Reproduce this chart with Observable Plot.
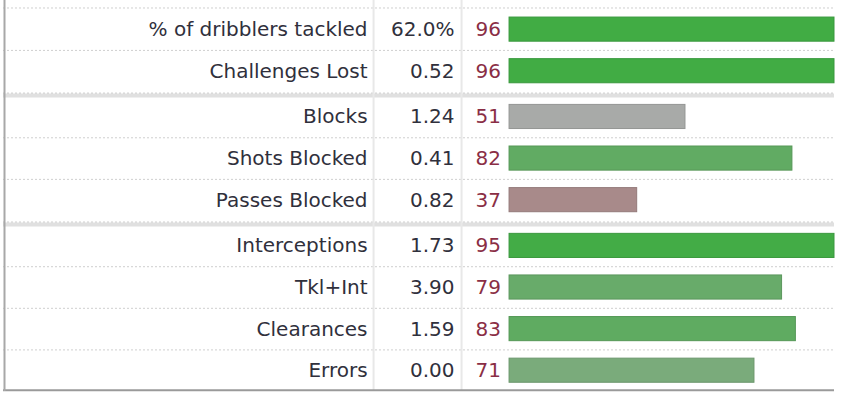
<!DOCTYPE html>
<html>
<head>
<meta charset="utf-8">
<script src="https://cdn.jsdelivr.net/npm/d3@7"></script>
<script src="https://cdn.jsdelivr.net/npm/@observablehq/plot@0.6"></script>
<style>
  html, body { margin: 0; padding: 0; background: #fff; }
  #chart svg { display: block; }
</style>
</head>
<body>
<div id="chart"></div>
<script>
// ---- data ----
const labels = ["% of dribblers tackled", "Challenges Lost", "Blocks", "Shots Blocked", "Passes Blocked", "Interceptions", "Tkl+Int", "Clearances", "Errors"];
const values = ["62.0%", "0.52", "1.24", "0.41", "0.82", "1.73", "3.90", "1.59", "0.00"];
const percentiles = [96, 96, 51, 82, 37, 95, 79, 83, 71];
const groups = [0, 0, 1, 1, 1, 2, 2, 2, 2];

// ---- layout / style ----
const groupGap = 0.1;
const rows = labels.map((label, i) => ({
  label, value: values[i], pct: percentiles[i], group: groups[i],
  pos: i + groups[i] * groupGap
}));
const xMin = -146.7, xMax = 94.2;

const colorScale = d3.scaleLinear()
  .domain([0, 50, 96])
  .range(["#a32f2f", "#aaaaaa", "#41ac44"])
  .interpolate(d3.interpolateRgb)
  .clamp(true);
const fillOf = d => colorScale(d.pct);
const strokeOf = d => d3.color(colorScale(d.pct)).darker(0.35).formatHex();

// separators
const rowLines = [], groupLines = [];
rows.forEach((d, i) => {
  if (i === 0) rowLines.push(d.pos - 0.52);
  else if (rows[i - 1].group === d.group) rowLines.push((rows[i - 1].pos + d.pos) / 2);
  else groupLines.push((rows[i - 1].pos + d.pos) / 2);
});
const bottomLine = [rows[rows.length - 1].pos + 0.47];

const font = "DejaVu Sans, Verdana, sans-serif";
const fs = 20;

const chart = Plot.plot({
  width: 858,
  height: 396,
  marginLeft: 3,
  marginRight: 24,
  marginTop: 0,
  marginBottom: 5,
  x: { domain: [xMin, xMax], clamp: true, axis: null },
  y: { domain: [-0.7, 8.7], reverse: true, axis: null },
  style: { fontFamily: font, background: "#fff" },
  marks: [
    Plot.ruleY(rowLines, { stroke: "#cfcfcf", strokeDasharray: "2,2", strokeWidth: 1 }),
    Plot.ruleY(groupLines, { stroke: "#e0e0e0", strokeWidth: 4, dy: 1.5 }),
    Plot.ruleY(groupLines, { stroke: "#cccccc", strokeDasharray: "2,2", strokeWidth: 1, dy: -1 }),
    Plot.ruleX([0], { dx: -136, stroke: "#e8e8e8", strokeWidth: 2 }),
    Plot.ruleX([0], { dx: -48, stroke: "#e8e8e8", strokeWidth: 2 }),
    Plot.rect(rows, {
      x1: () => 0, x2: "pct",
      y1: d => d.pos - 0.29, y2: d => d.pos + 0.29,
      fill: fillOf, stroke: strokeOf, strokeWidth: 1
    }),
    Plot.text(rows, { x: () => 0, y: "pos", text: "label", textAnchor: "end", dx: -142, fill: "#30303c", fontSize: fs }),
    Plot.text(rows, { x: () => 0, y: "pos", text: "value", textAnchor: "end", dx: -55, fill: "#30303c", fontSize: fs }),
    Plot.text(rows, { x: () => 0, y: "pos", text: d => String(d.pct), textAnchor: "end", dx: -8.5, fill: "#8a2e45", fontSize: fs }),
    Plot.ruleY(bottomLine, { stroke: "#9a9a9a", strokeWidth: 2 }),
    Plot.ruleX([xMin], { stroke: "#a8a8a8", strokeWidth: 2, dx: 1 })
  ]
});
document.getElementById("chart").appendChild(chart);
</script>
</body>
</html>
